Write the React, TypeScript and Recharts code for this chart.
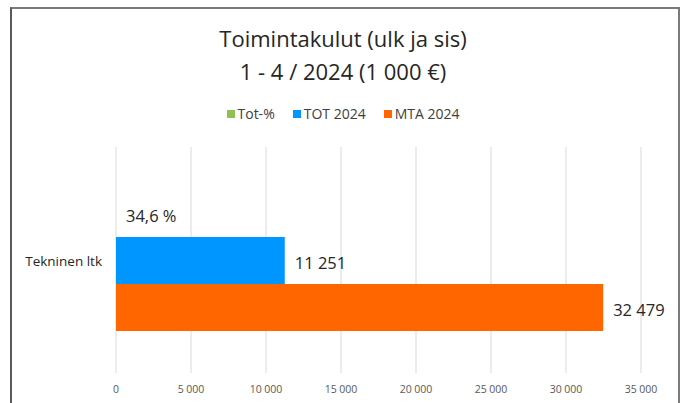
import React from "react";
import { BarChart, Bar, XAxis, YAxis, CartesianGrid, LabelList } from "recharts";

const categories = ["Tekninen ltk"];
const totPct = [0.346];
const tot2024 = [11251];
const mta2024 = [32479];
const xTicks = [0, 5000, 10000, 15000, 20000, 25000, 30000, 35000];

const titleLines = ["Toimintakulut (ulk ja sis)", "1 - 4 / 2024 (1 000 €)"];
const seriesNames = ["Tot-%", "TOT 2024", "MTA 2024"];
const seriesColors = ["#92C050", "#0096FF", "#FF6600"];

const data = categories.map((name, i) => ({
  name,
  pct: totPct[i],
  tot: tot2024[i],
  mta: mta2024[i],
}));

const FONT = "'Open Sans', sans-serif";

const thousands = (v: number) =>
  String(Math.round(v)).replace(/\B(?=(\d{3})+(?!\d))/g, " ");
const pctFmt = (v: number) => (v * 100).toFixed(1).replace(".", ",") + " %";

const XTick = (props: any) => {
  const { x, y, payload } = props;
  return (
    <text
      x={x}
      y={y + 16}
      textAnchor="middle"
      dominantBaseline="central"
      fontFamily={FONT}
      fontSize={10.5}
      fill="#595959"
    >
      {thousands(payload.value)}
    </text>
  );
};

const YTick = (props: any) => {
  const { x, y, payload } = props;
  return (
    <text
      x={x - 14}
      y={y + 1}
      textAnchor="end"
      dominantBaseline="central"
      fontFamily={FONT}
      fontSize={13.5}
      fill="#262626"
    >
      {payload.value}
    </text>
  );
};

const makeLabel = (fmt: (v: number) => string) => (props: any) => {
  const { x, y, width, height, value } = props;
  return (
    <text
      x={x + width + 10}
      y={y + height / 2 + 1.5}
      textAnchor="start"
      dominantBaseline="central"
      fontFamily={FONT}
      fontSize={16.5}
      fill="#262626"
    >
      {fmt(value)}
    </text>
  );
};

export default function App() {
  return (
    <div
      style={{
        position: "absolute",
        left: 0,
        top: 0,
        width: 686,
        height: 403,
        overflow: "hidden",
        background: "#fff",
      }}
    >
      <div
        style={{
          position: "absolute",
          left: 10,
          top: 7,
          width: 666,
          height: 420,
          border: "2px solid #5a5a5a",
          borderTopColor: "#7a7a7a",
          borderRightColor: "#7a7a7a",
          boxSizing: "content-box",
        }}
      />
      <div
        style={{
          position: "absolute",
          left: 0,
          width: 686,
          top: 22,
          textAlign: "center",
          fontFamily: FONT,
          fontSize: 22,
          lineHeight: "33px",
          color: "#262626",
        }}
      >
        {titleLines.map((t) => (
          <div key={t}>{t}</div>
        ))}
      </div>
      <div
        style={{
          position: "absolute",
          left: 0,
          width: 686,
          top: 104,
          display: "flex",
          justifyContent: "center",
          fontFamily: FONT,
          fontSize: 14,
          lineHeight: "19px",
          color: "#404040",
        }}
      >
        {seriesNames.map((n, i) => (
          <div
            key={n}
            style={{ display: "flex", alignItems: "center", marginLeft: i === 0 ? 0 : 18 }}
          >
            <span
              style={{
                display: "inline-block",
                width: 8,
                height: 8,
                background: seriesColors[i],
                marginRight: 3,
              }}
            />
            <span>{n}</span>
          </div>
        ))}
      </div>
      <div style={{ position: "absolute", left: 0, top: 0 }}>
        <BarChart
          width={686}
          height={403}
          data={data}
          layout="vertical"
          margin={{ top: 147, right: 45, bottom: 0, left: 0 }}
          barSize={47}
          barGap={0}
        >
          <CartesianGrid horizontal={false} stroke="#d9d9d9" strokeWidth={1} />
          <XAxis
            type="number"
            domain={[0, 35000]}
            ticks={xTicks}
            height={30}
            axisLine={false}
            tickLine={false}
            tickSize={0}
            tickMargin={0}
            tick={<XTick />}
            interval={0}
          />
          <YAxis
            type="category"
            dataKey="name"
            width={116}
            axisLine={false}
            tickLine={false}
            tickSize={0}
            tickMargin={0}
            tick={<YTick />}
          />
          <Bar dataKey="pct" name={seriesNames[0]} fill={seriesColors[0]} isAnimationActive={false}>
            <LabelList dataKey="pct" content={makeLabel(pctFmt)} />
          </Bar>
          <Bar dataKey="tot" name={seriesNames[1]} fill={seriesColors[1]} isAnimationActive={false}>
            <LabelList dataKey="tot" content={makeLabel(thousands)} />
          </Bar>
          <Bar dataKey="mta" name={seriesNames[2]} fill={seriesColors[2]} isAnimationActive={false}>
            <LabelList dataKey="mta" content={makeLabel(thousands)} />
          </Bar>
        </BarChart>
      </div>
    </div>
  );
}
